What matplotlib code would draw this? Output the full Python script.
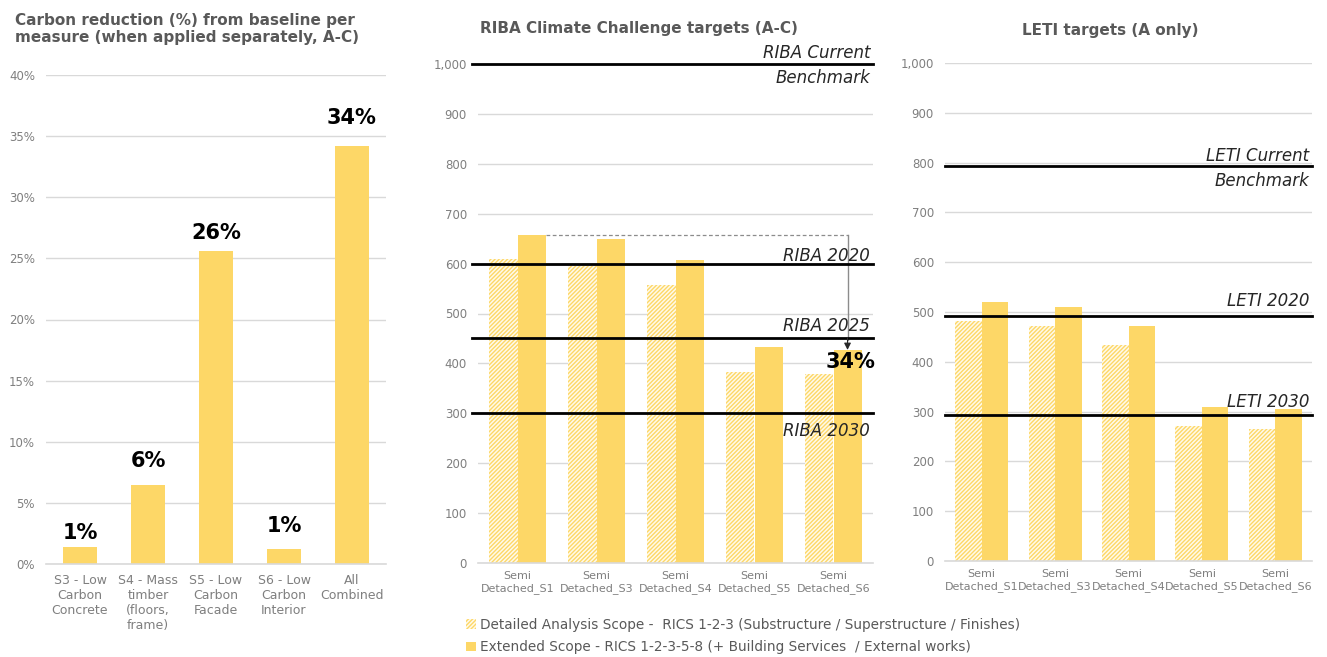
import numpy as np
import matplotlib
matplotlib.use("Agg")
import matplotlib.pyplot as plt
from matplotlib.patches import Patch
from matplotlib.ticker import FuncFormatter

plt.rcParams['font.family'] = ['DejaVu Sans']
plt.rcParams['hatch.linewidth'] = 1.0

# --- data ---
measures = ["S3 - Low\nCarbon\nConcrete", "S4 - Mass\ntimber\n(floors,\nframe)",
            "S5 - Low\nCarbon\nFacade", "S6 - Low\nCarbon\nInterior", "All\nCombined"]
reduction = [1.37, 6.45, 25.6, 1.25, 34.2]
reduction_labels = ["1%", "6%", "26%", "1%", "34%"]

options = ["Semi\nDetached_S1", "Semi\nDetached_S3", "Semi\nDetached_S4",
           "Semi\nDetached_S5", "Semi\nDetached_S6"]
riba_detailed = [609, 596, 557, 383, 379]
riba_extended = [658, 649, 607, 433, 427]
leti_detailed = [481, 471, 434, 271, 266]
leti_extended = [520, 510, 472, 309, 305]

riba_targets = [1000, 600, 450, 300]
riba_names = ["RIBA Current", "RIBA 2020", "RIBA 2025", "RIBA 2030"]
leti_targets = [793, 492, 293]
leti_names = ["LETI Current", "LETI 2020", "LETI 2030"]

legend_labels = ["Detailed Analysis Scope -  RICS 1-2-3 (Substructure / Superstructure / Finishes)",
                 "Extended Scope - RICS 1-2-3-5-8 (+ Building Services  / External works)"]

YELLOW = "#FDD767"
GRID = "#D9D9D9"
TICK = "#7F7F7F"
TITLE = "#595959"
HATCH = "/" * 8

W, H = 1327, 657
fig = plt.figure(figsize=(W / 100, H / 100), dpi=100)


def px_axes(x0, y0, x1, y1):
    return fig.add_axes([x0 / W, 1 - y1 / H, (x1 - x0) / W, (y1 - y0) / H])


def style(ax):
    for s in ["top", "right", "left"]:
        ax.spines[s].set_visible(False)
    ax.spines["bottom"].set_color(GRID)
    ax.spines["bottom"].set_linewidth(1.2)
    ax.yaxis.grid(True, color=GRID, lw=1)
    ax.set_axisbelow(True)
    ax.tick_params(axis="both", length=0, colors=TICK)
    ax.tick_params(axis="y", labelsize=8.5, pad=8)


# ---------- left: reduction per measure ----------
ax1 = px_axes(46, 75, 386, 564)
x = np.arange(len(measures))
ax1.bar(x, reduction, width=0.5, color=YELLOW)
ax1.set_xlim(-0.5, 4.5)
ax1.set_ylim(0, 40)
ax1.set_yticks(np.arange(0, 41, 5))
ax1.yaxis.set_major_formatter(FuncFormatter(lambda v, p: f"{v:.0f}%"))
ax1.set_xticks(x)
ax1.set_xticklabels(measures, fontsize=9, linespacing=1.2)
style(ax1)
ax1.tick_params(axis="x", pad=7)
label_pad = [3, 10, 6, 9, 13]
for xi, v, lab, pad in zip(x, reduction, reduction_labels, label_pad):
    ax1.annotate(lab, (xi, v), xytext=(0, pad), textcoords="offset points",
                 ha="center", va="bottom", fontsize=15, fontweight="bold", color="black")

fig.text(15 / W, 1 - 13 / H, "Carbon reduction (%) from baseline per\nmeasure (when applied separately, A-C)",
         ha="left", va="top", fontsize=11, fontweight="bold", color=TITLE, linespacing=1.2)


def grouped(ax, detailed, extended, width):
    xs = np.arange(len(options))
    ax.bar(xs - width / 2, detailed, width=width, facecolor="#FFFAEA", edgecolor=YELLOW,
           hatch=HATCH, lw=0)
    ax.bar(xs + width / 2, extended, width=width, color=YELLOW)
    ax.set_xlim(-0.5, 4.5)
    ax.set_ylim(0, 1000)
    ax.set_yticks(np.arange(0, 1001, 100))
    ax.yaxis.set_major_formatter(FuncFormatter(lambda v, p: f"{v:,.0f}"))
    ax.set_xticks(xs)
    ax.set_xticklabels(options, fontsize=8, linespacing=1.2)
    style(ax)
    ax.tick_params(axis="x", pad=6)
    return xs


def target(ax, y, name, dy, left=-0.57):
    ax.plot([left, 4.5], [y, y], color="black", lw=2, clip_on=False, zorder=4)
    ax.annotate(name, (4.5, y), xytext=(-2, dy), textcoords="offset points",
                ha="right", va="baseline", fontsize=12, style="italic",
                color="#262626", zorder=5)


# ---------- middle: RIBA ----------
ax2 = px_axes(478, 64, 873, 563)
bw = 0.355
xs = grouped(ax2, riba_detailed, riba_extended, bw)
for y, name, dy in zip(riba_targets, riba_names, [4, 2, 5.5, -16]):
    target(ax2, y, name, dy, left=-0.57)
ax2.annotate("Benchmark", (4.5, riba_targets[0]), xytext=(-2, -14), textcoords="offset points",
             ha="right", va="baseline", fontsize=12, style="italic", color="#262626")

# dashed drop from S1 extended to S6 extended
x_end = xs[-1] + bw / 2
ax2.plot([xs[0] + bw, x_end], [riba_extended[0], riba_extended[0]],
         color="#8C8C8C", lw=0.9, ls=(0, (3, 2)), zorder=3)
ax2.plot([x_end, x_end], [riba_extended[0], riba_extended[-1] + 20], color="#8C8C8C", lw=1, zorder=3)
ax2.annotate("", xy=(x_end, riba_extended[-1]), xytext=(x_end, riba_extended[-1] + 25),
             arrowprops=dict(arrowstyle="-|>", color="#262626", lw=0.8, mutation_scale=10,
                             shrinkA=0, shrinkB=0), zorder=6)
ax2.annotate(reduction_labels[-1], (4.5, 403), xytext=(2, 0), textcoords="offset points",
             ha="right", va="center", fontsize=15, fontweight="bold", color="black", zorder=6)

fig.text(480 / W, 1 - 29 / H, "RIBA Climate Challenge targets (A-C)", ha="left", va="center",
         fontsize=11, fontweight="bold", color=TITLE)

# ---------- right: LETI ----------
ax3 = px_axes(945, 63, 1312, 561)
xs3 = grouped(ax3, leti_detailed, leti_extended, 0.36)
for y, name, dy in zip(leti_targets, leti_names, [4, 7, 6]):
    target(ax3, y, name, dy, left=-0.5)
ax3.annotate("Benchmark", (4.5, leti_targets[0]), xytext=(-2, -14), textcoords="offset points",
             ha="right", va="baseline", fontsize=12, style="italic", color="#262626")

fig.text(1110 / W, 1 - 30 / H, "LETI targets (A only)", ha="center", va="center",
         fontsize=11, fontweight="bold", color=TITLE)

# ---------- legend ----------
handles = [Patch(facecolor="#FFFAEA", edgecolor=YELLOW, hatch=HATCH, lw=0),
           Patch(facecolor=YELLOW, lw=0)]
leg = fig.legend(handles, legend_labels, loc="upper left", bbox_to_anchor=(466 / W, 1 - 618 / H),
                 frameon=False, fontsize=9.8, handlelength=0.7, handleheight=0.7,
                 handletextpad=0.3, labelspacing=0.6, borderaxespad=0, borderpad=0)
for t in leg.get_texts():
    t.set_color(TITLE)

fig.savefig("out.png", dpi=100)
